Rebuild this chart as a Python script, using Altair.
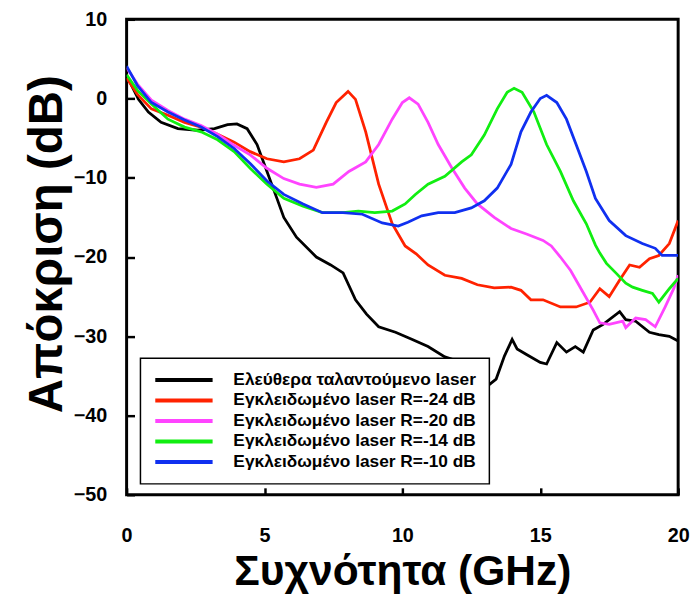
import altair as alt
import pandas as pd

series_names = [
    "Ελεύθερα ταλαντούμενο laser",
    "Εγκλειδωμένο laser R=-24 dB",
    "Εγκλειδωμένο laser R=-20 dB",
    "Εγκλειδωμένο laser R=-14 dB",
    "Εγκλειδωμένο laser R=-10 dB",
]
colors = ["#000000", "#ff2200", "#ff44ff", "#11ee11", "#1030f0"]

free_x = [0, 0.2, 0.43, 0.79, 1.25, 1.86, 2.58, 3.19, 3.66, 4.0, 4.37, 4.73, 5.09, 5.45, 5.7,
          6.16, 6.88, 7.4, 7.85, 8.3, 8.7, 9.14, 9.75, 10.36, 10.93, 11.54, 11.8, 12.2, 12.6,
          12.97, 13.4, 13.7, 13.98, 14.16, 14.5, 15.0, 15.23, 15.6, 15.95, 16.27, 16.56, 16.92,
          17.28, 17.88, 18.1, 18.46, 18.96, 19.3, 19.68, 20.0]
free_y = [2.9, 1.5, -0.1, -1.7, -3.0, -3.8, -4.0, -3.8, -3.3, -3.2, -3.8, -5.8, -9.2, -12.6, -15.0,
          -17.5, -20.0, -21.0, -22.0, -25.4, -27.2, -28.8, -29.5, -30.4, -31.3, -32.6, -32.9, -34.5, -36.0,
          -36.6, -35.4, -32.5, -30.4, -31.6, -32.3, -33.3, -33.5, -30.8, -32.0, -31.3, -32.0, -29.2,
          -28.5, -26.9, -27.9, -28.1, -29.5, -29.8, -30.0, -30.6]

r24_x = [0, 0.4, 0.9, 1.5, 2.1, 2.7, 3.3, 3.9, 4.48, 5.09, 5.7, 6.27, 6.77, 7.24, 7.6, 8.03, 8.3,
         8.67, 9.14, 9.63, 10.1, 10.5, 10.93, 11.54, 12.15, 12.72, 13.33, 13.94, 14.3, 14.66, 15.1,
         15.73, 16.3, 16.8, 17.16, 17.5, 17.88, 18.24, 18.6, 18.96, 19.3, 19.68, 20.0]
r24_y = [2.6, 0.5, -1.3, -2.1, -3.0, -3.6, -4.5, -5.5, -6.7, -7.6, -8.0, -7.6, -6.5, -3.0, -0.5, 0.9, -0.1,
         -4.2, -10.8, -15.8, -18.6, -19.6, -21.0, -22.3, -22.7, -23.5, -23.9, -23.8, -24.2, -25.4, -25.4,
         -26.3, -26.3, -25.7, -24.0, -25.0, -22.9, -21.0, -21.3, -20.2, -19.8, -18.3, -15.4]

r20_x = [0, 0.4, 0.9, 1.5, 2.1, 2.7, 3.3, 3.9, 4.48, 5.09, 5.7, 6.27, 6.88, 7.49, 8.06, 8.67, 9.14,
         9.63, 10.0, 10.25, 10.57, 10.93, 11.3, 11.8, 12.26, 12.72, 13.33, 13.94, 14.5, 15.1, 15.4,
         15.73, 16.1, 16.56, 16.92, 17.16, 17.5, 17.99, 18.1, 18.46, 18.82, 19.17, 19.53, 19.85, 20.0]
r20_y = [3.9, 1.8, -0.2, -1.5, -2.6, -3.4, -4.5, -5.9, -7.1, -8.8, -10.1, -10.8, -11.2, -10.8, -9.2, -8.0, -5.8,
         -2.6, -0.5, 0.1, -0.7, -3.0, -5.8, -8.8, -11.3, -13.3, -15.0, -16.4, -17.1, -17.9, -18.6,
         -20.0, -21.7, -24.5, -26.7, -28.3, -28.5, -28.1, -28.9, -27.7, -27.9, -28.8, -26.3, -23.9, -22.3]

r14_x = [0, 0.4, 0.9, 1.5, 2.1, 2.7, 3.3, 3.9, 4.48, 5.09, 5.7, 6.4, 7.1, 7.85, 8.4, 9.0, 9.63,
         10.1, 10.47, 10.93, 11.54, 12.15, 12.5, 12.97, 13.44, 13.8, 14.05, 14.34, 14.77, 15.23,
         15.73, 16.2, 16.67, 17.0, 17.16, 17.4, 17.74, 18.1, 18.35, 18.7, 19.07, 19.3, 19.68, 20.0]
r14_y = [3.0, 1.0, -0.7, -2.6, -3.6, -4.2, -5.2, -6.7, -8.8, -10.8, -12.6, -13.6, -14.4, -14.4, -14.2, -14.4, -14.2,
         -13.3, -12.1, -10.8, -9.8, -8.0, -7.1, -4.6, -1.3, 0.8, 1.3, 0.8, -1.7, -5.8,
         -9.2, -12.9, -15.8, -18.5, -19.5, -20.8, -22.0, -23.3, -23.8, -24.2, -24.6, -25.7, -24.0, -22.7]

r10_x = [0, 0.4, 0.9, 1.5, 2.1, 2.7, 3.3, 3.9, 4.48, 5.09, 5.7, 6.4, 7.1, 7.85, 8.55, 9.27, 9.85,
         10.2, 10.7, 11.3, 11.9, 12.5, 12.97, 13.44, 13.94, 14.3, 14.66, 15.0, 15.23, 15.6, 15.95,
         16.3, 16.67, 17.0, 17.5, 18.1, 18.7, 19.17, 19.42, 20.0]
r10_y = [4.1, 1.6, -0.5, -1.7, -2.7, -3.6, -4.8, -6.3, -8.2, -10.4, -12.1, -13.3, -14.4, -14.4, -14.6, -15.7, -16.1,
         -15.6, -14.8, -14.4, -14.4, -13.8, -12.9, -11.3, -8.3, -4.2, -1.7, 0.0, 0.4, -0.5, -2.6,
         -5.8, -9.2, -12.6, -15.4, -17.3, -18.3, -18.9, -19.8, -19.8]

x_ticks = [0, 5, 10, 15, 20]
y_ticks = [10, 0, -10, -20, -30, -40, -50]

rows = []
for name, xs, ys in zip(series_names,
                        [free_x, r24_x, r20_x, r14_x, r10_x],
                        [free_y, r24_y, r20_y, r14_y, r10_y]):
    for i, (xv, yv) in enumerate(zip(xs, ys)):
        rows.append({"series": name, "f": xv, "r": yv, "idx": i})
df = pd.DataFrame(rows)

SANS = "Liberation Sans, Arial, sans-serif"

xscale = alt.Scale(domain=[0, 20], nice=False, zero=False)
yscale = alt.Scale(domain=[-50, 10], nice=False, zero=False)

lines = alt.Chart(df).mark_line(strokeWidth=2.8, clip=True).encode(
    x=alt.X("f:Q", scale=xscale, axis=alt.Axis(
        title="Συχνότητα (GHz)", values=x_ticks, format="d", ticks=False, tickSize=0,
        domain=False, grid=False, labelPadding=31, labelFlush=False,
        labelFont=SANS, labelFontSize=20, labelFontWeight="bold", labelColor="black",
        titleFont=SANS, titleFontSize=43, titleFontWeight="bold", titleColor="black",
        titleBaseline="alphabetic", titleY=91, titleX=279)),
    y=alt.Y("r:Q", scale=yscale, axis=alt.Axis(
        title="Απόκριση (dB)", values=y_ticks, format="d", ticks=False, tickSize=0,
        domain=False, grid=False, labelPadding=20,
        labelFont=SANS, labelFontSize=20, labelFontWeight="bold", labelColor="black",
        titleFont=SANS, titleFontSize=48, titleFontWeight="bold", titleColor="black",
        titleAngle=270, titleBaseline="alphabetic", titleX=-66, titleY=227)),
    color=alt.Color("series:N", sort=series_names,
                    scale=alt.Scale(domain=series_names, range=colors),
                    legend=alt.Legend(title=None, orient="none", legendX=14, legendY=343,
                                      symbolType="stroke", symbolSize=3364, symbolStrokeWidth=4,
                                      labelFont=SANS, labelFontSize=17.5, labelFontWeight="bold",
                                      labelColor="black", labelOffset=19, labelLimit=500,
                                      padding=13, clipHeight=18, rowPadding=2.7,
                                      fillColor="white", zindex=2)),
    order="idx:Q",
)

tick_layer = alt.Chart(df).mark_line(opacity=0).encode(
    x=alt.X("f:Q", scale=xscale, axis=alt.Axis(
        orient="bottom", offset=-7, tickSize=7, tickWidth=2.5, tickColor="black",
        values=x_ticks, labels=False, domain=False, grid=False, title=None)),
    y=alt.Y("r:Q", scale=yscale, axis=alt.Axis(
        orient="left", offset=-8, tickSize=8, tickWidth=2.5, tickColor="black",
        values=y_ticks, labels=False, domain=False, grid=False, title=None)),
    detail="series:N",
)

chart = alt.layer(lines, tick_layer).resolve_scale(
    x="independent", y="independent"
).properties(
    width=558, height=481, autosize="none",
    padding={"left": 120, "top": 8, "right": 13, "bottom": 100},
).configure_view(
    stroke="black", strokeWidth=3
).configure_legend(
    strokeColor="black", strokeWidth=1.5, cornerRadius=0, fillColor="white"
)

chart.save("out.html", embed_options={"renderer": "svg", "actions": False})
